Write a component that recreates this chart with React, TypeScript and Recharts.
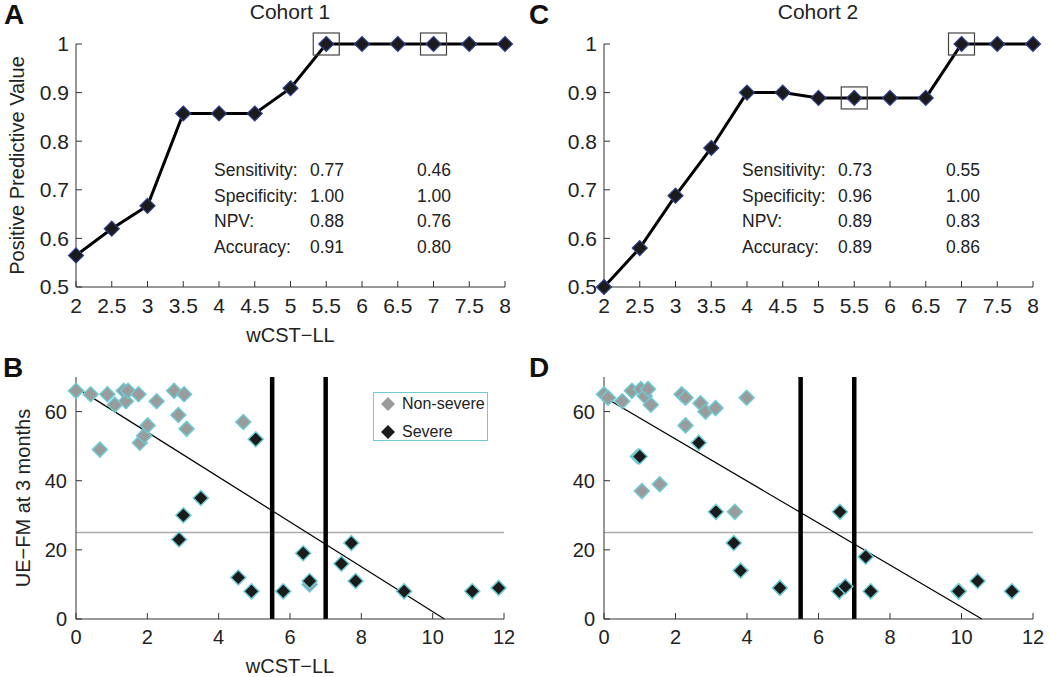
import {
  LineChart,
  Line,
  ScatterChart,
  Scatter,
  XAxis,
  YAxis,
  ReferenceLine,
  ReferenceDot,
  Legend
} from "recharts"

const FONT = "'Liberation Sans', Arial, Helvetica, sans-serif"

// panels A and C
const thresholds = [2, 2.5, 3, 3.5, 4, 4.5, 5, 5.5, 6, 6.5, 7, 7.5, 8]
const ppvCohort1 = [0.565, 0.62, 0.667, 0.857, 0.857, 0.857, 0.909, 1, 1, 1, 1, 1, 1]
const ppvCohort2 = [0.5, 0.58, 0.688, 0.786, 0.9, 0.9, 0.889, 0.889, 0.889, 0.889, 1, 1, 1]
const ppvTicks = [0.5, 0.6, 0.7, 0.8, 0.9, 1]
const boxedCohort1 = [5.5, 7]
const boxedCohort2 = [5.5, 7]

const statNames = ["Sensitivity:", "Specificity:", "NPV:", "Accuracy:"]
const statsC1Low = ["0.77", "1.00", "0.88", "0.91"]
const statsC1High = ["0.46", "1.00", "0.76", "0.80"]
const statsC2Low = ["0.73", "0.96", "0.89", "0.89"]
const statsC2High = ["0.55", "1.00", "0.83", "0.86"]

// panels B and D : [wCST-LL, UE-FM]
const c1NonSevere = [
  [0, 66], [0.41, 65], [0.67, 49], [0.88, 65], [1.09, 62], [1.34, 66], [1.4, 63],
  [1.46, 66], [1.75, 65], [1.79, 51], [1.91, 53], [2.01, 56], [2.26, 63], [2.75, 66],
  [2.87, 59], [3.03, 65], [3.1, 55], [4.69, 57], [6.55, 10]
]
const c1Severe = [
  [2.89, 23], [3.01, 30], [3.5, 35], [4.55, 12], [4.92, 8], [5.04, 52], [5.81, 8],
  [6.37, 19], [6.55, 11], [7.44, 16], [7.72, 22], [7.84, 11], [9.2, 8], [11.11, 8], [11.85, 9]
]
const c2NonSevere = [
  [0, 65], [0.11, 64], [0.51, 63], [0.78, 66], [0.95, 47], [1.03, 66.5], [1.06, 37],
  [1.14, 64.5], [1.23, 66.5], [1.31, 62], [1.56, 39], [2.17, 65], [2.28, 64], [2.28, 56],
  [2.7, 62.4], [2.84, 60], [3.12, 61], [3.66, 31], [3.99, 64], [9.92, 8]
]
const c2Severe = [
  [1.0, 47], [2.65, 51], [3.13, 31], [3.63, 22], [3.82, 14], [4.92, 9], [6.6, 31],
  [6.58, 8], [6.75, 9.4], [7.32, 18], [7.46, 8], [9.92, 8], [10.45, 11], [11.41, 8]
]
const fitCohort1 = [{ x: 0, y: 67 }, { x: 10.33, y: 0 }]
const fitCohort2 = [{ x: 0, y: 64.2 }, { x: 10.57, y: 0 }]
const cutoffs = [5.5, 7]
const severeLine = 25
const wcstTicks = [0, 2, 4, 6, 8, 10, 12]
const fmTicks = [0, 20, 40, 60]

const toPoints = (arr: number[][]) => arr.map(([x, y]) => ({ x, y }))
const ppvData = thresholds.map((t, i) => ({ t, c1: ppvCohort1[i], c2: ppvCohort2[i] }))

const GRAY = "#9b9b9b"
const DARK = "#1b1b1b"
const CYAN = "#6ccbd4"

function diamondPath(cx: number, cy: number, r: number) {
  return `M${cx},${cy - r}L${cx + r},${cy}L${cx},${cy + r}L${cx - r},${cy}Z`
}

const tickStyle = { fill: "#222", fontSize: 20, fontFamily: FONT }
const ppvTickStyle = { fill: "#222", fontSize: 21, fontFamily: FONT }

function PpvDot(props: any) {
  const { cx, cy, index } = props
  if (cx == null || cy == null) return <g key={index} />
  return (
    <path key={index} d={diamondPath(cx, cy, 7.5)} fill={DARK} stroke="#2e3f8f" strokeWidth={1.2} />
  )
}

function BoxMark(props: any) {
  const { cx, cy } = props
  return <rect x={cx - 13} y={cy - 11} width={26} height={22} fill="none" stroke="#444" strokeWidth={1.2} />
}

function ScatterDiamond(props: any) {
  const { cx, cy, fill } = props
  return <path d={diamondPath(cx, cy, 7.5)} fill={fill} stroke={CYAN} strokeWidth={1.5} />
}

function LegendBox(props: any) {
  const items = props.payload || []
  return (
    <div style={{
      border: `1.5px solid ${CYAN}`, width: 113, height: 47, fontFamily: FONT,
      fontSize: 16, color: "#222", boxSizing: "content-box", background: "#fff"
    }}>
      {items.map((it: any, i: number) => (
        <div key={i} style={{ position: "relative", height: 28, lineHeight: "28px", top: -3 }}>
          <svg width={20} height={20} style={{ position: "absolute", left: 4, top: 4 }}>
            <path d={diamondPath(10, 10, 7)} fill={it.value === "Severe" ? DARK : GRAY} />
          </svg>
          <span style={{ position: "absolute", left: 28 }}>{it.value}</span>
        </div>
      ))}
    </div>
  )
}

function StatsTable({ left, col2, col3, low, high }: any) {
  return (
    <div style={{ position: "absolute", left: 0, top: 158, fontFamily: FONT, fontSize: 17.5, color: "#222" }}>
      {statNames.map((n, i) => (
        <div key={n} style={{ position: "absolute", top: i * 25.5, height: 25.5, lineHeight: "25.5px", width: 600 }}>
          <span style={{ position: "absolute", left }}>{n}</span>
          <span style={{ position: "absolute", left: col2 }}>{low[i]}</span>
          <span style={{ position: "absolute", left: col3 }}>{high[i]}</span>
        </div>
      ))}
    </div>
  )
}

function PpvPanel({ left, yWidth, right, dataKey, boxed, ylabel, xlabel }: any) {
  return (
    <div style={{ position: "absolute", left, top: 0 }}>
      <LineChart width={525} height={350} data={ppvData} margin={{ top: 44, right, bottom: 3, left: 0 }}>
        <XAxis
          dataKey="t" type="number" domain={[2, 8]} ticks={thresholds} interval={0}
          height={60} tick={ppvTickStyle} tickSize={-6} tickMargin={17} stroke="#333"
          label={xlabel ? { value: "wCST\u2212LL", position: "insideBottom", offset: 5, fill: "#222", fontSize: 20, fontFamily: FONT } : undefined}
        />
        <YAxis
          type="number" domain={[0.5, 1]} ticks={ppvTicks} interval={0}
          width={yWidth} tick={ppvTickStyle} tickSize={-6} tickMargin={13} stroke="#333"
          label={ylabel ? { value: "Positive Predictive Value", angle: -90, position: "insideLeft", offset: 17, textAnchor: "middle", style: { textAnchor: "middle" }, fill: "#222", fontSize: 20, fontFamily: FONT } : undefined}
        />
        <Line
          dataKey={dataKey} stroke="#000" strokeWidth={3} dot={PpvDot}
          activeDot={false} isAnimationActive={false}
        />
        {boxed.map((b: number) => (
          <ReferenceDot key={b} x={b} y={ppvData[thresholds.indexOf(b)][dataKey]} shape={BoxMark} />
        ))}
      </LineChart>
    </div>
  )
}

function ScatterPanel({ left, yWidth, right, nonSevere, severe, fit, ylabel, xlabel, legend }: any) {
  return (
    <div style={{ position: "absolute", left, top: 340 }}>
      <ScatterChart width={525} height={337} margin={{ top: 37, right, bottom: 0, left: 0 }}>
        <XAxis
          dataKey="x" type="number" domain={[0, 12]} ticks={wcstTicks} interval={0}
          height={58} tick={tickStyle} tickSize={-6} tickMargin={17} stroke="#333"
          label={xlabel ? { value: "wCST\u2212LL", position: "insideBottom", offset: 4, fill: "#222", fontSize: 20, fontFamily: FONT } : undefined}
        />
        <YAxis
          dataKey="y" type="number" domain={[0, 70]} ticks={fmTicks} interval={0}
          width={yWidth} tick={tickStyle} tickSize={-6} tickMargin={15} stroke="#333"
          label={ylabel ? { value: "UE\u2212FM at 3 months", angle: -90, position: "insideLeft", offset: 23, textAnchor: "middle", style: { textAnchor: "middle" }, fill: "#222", fontSize: 20, fontFamily: FONT } : undefined}
        />
        <ReferenceLine y={severeLine} stroke="#aaa" strokeWidth={1.5} />
        <ReferenceLine segment={fit} stroke="#000" strokeWidth={1.2} />
        <Scatter name="Non-severe" data={toPoints(nonSevere)} fill={GRAY} shape={ScatterDiamond} isAnimationActive={false} />
        <Scatter name="Severe" data={toPoints(severe)} fill={DARK} shape={ScatterDiamond} isAnimationActive={false} />
        {cutoffs.map((c) => (
          <ReferenceLine key={c} x={c} stroke="#000" strokeWidth={4.5} />
        ))}
        {legend && (
          <Legend
            layout="vertical" align="center" verticalAlign="middle"
            wrapperStyle={{ left: 373, top: 52, width: "auto" }}
            content={LegendBox}
          />
        )}
      </ScatterChart>
    </div>
  )
}

const letterStyle: any = { position: "absolute", fontFamily: FONT, fontWeight: "bold", fontSize: 28, color: "#111", lineHeight: 1 }
const titleStyle: any = { position: "absolute", fontFamily: FONT, fontSize: 21, color: "#222", lineHeight: 1, textAlign: "center", width: 200 }

export default function App() {
  return (
    <div style={{ position: "absolute", left: 0, top: 0, width: 1050, height: 677, background: "#fff", overflow: "hidden" }}>
      <PpvPanel left={0} yWidth={76} right={20} dataKey="c1" boxed={boxedCohort1} ylabel xlabel />
      <PpvPanel left={525} yWidth={79} right={17} dataKey="c2" boxed={boxedCohort2} />
      <ScatterPanel left={0} yWidth={76} right={21} nonSevere={c1NonSevere} severe={c1Severe} fit={fitCohort1} ylabel xlabel legend />
      <ScatterPanel left={525} yWidth={79} right={17} nonSevere={c2NonSevere} severe={c2Severe} fit={fitCohort2} />

      <StatsTable left={214} col2={310} col3={417} low={statsC1Low} high={statsC1High} />
      <StatsTable left={742} col2={838} col3={946} low={statsC2Low} high={statsC2High} />

      <div style={{ ...letterStyle, left: 4, top: 1 }}>A</div>
      <div style={{ ...letterStyle, left: 3, top: 354 }}>B</div>
      <div style={{ ...letterStyle, left: 529, top: 1 }}>C</div>
      <div style={{ ...letterStyle, left: 529, top: 354 }}>D</div>
      <div style={{ ...titleStyle, left: 190, top: 1 }}>Cohort 1</div>
      <div style={{ ...titleStyle, left: 718, top: 1 }}>Cohort 2</div>
    </div>
  )
}
